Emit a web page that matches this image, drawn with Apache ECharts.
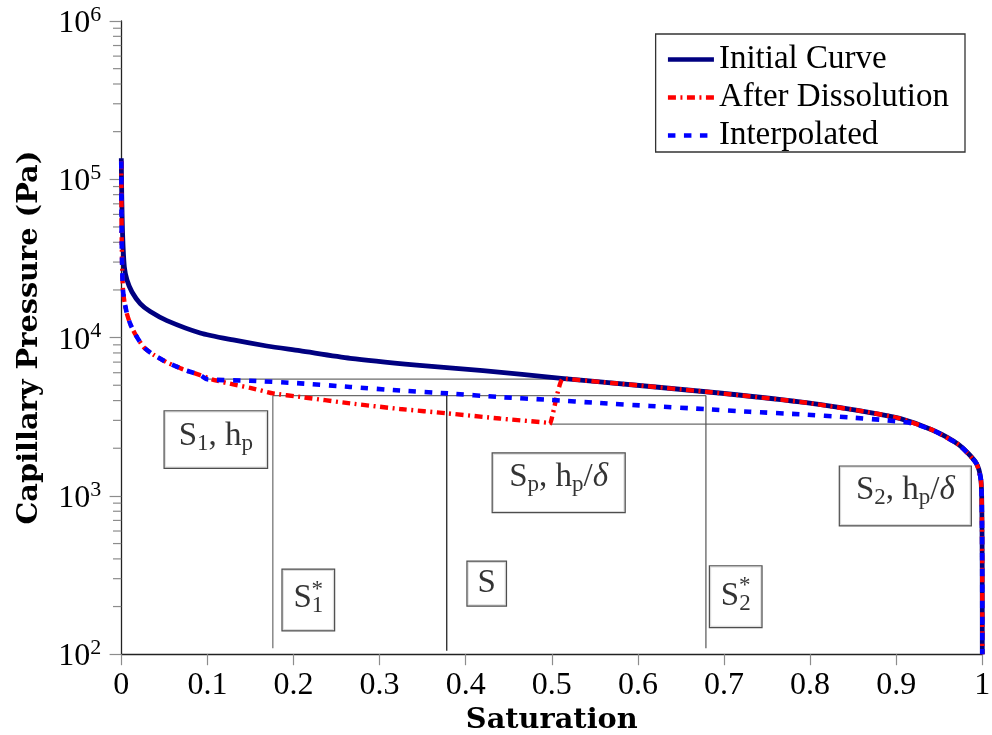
<!DOCTYPE html>
<html>
<head>
<meta charset="utf-8">
<script src="https://cdn.jsdelivr.net/npm/echarts@6/dist/echarts.min.js"></script>
<style>
  html, body { margin: 0; padding: 0; background: #fff; }
  #chart { width: 992px; height: 735px; }
</style>
</head>
<body>
<div id="chart"></div>
<script>
// ---- Capillary pressure curves: saturation (-) vs. pressure (Pa) ----
const initialS  = [0, 0.0005, 0.0015, 0.0035, 0.0066, 0.0124, 0.022, 0.0336, 0.053, 0.0916, 0.13, 0.169, 0.207, 0.266, 0.343, 0.42, 0.511, 0.556, 0.679, 0.788, 0.865, 0.904, 0.942, 0.973, 0.993, 0.9984, 0.9995, 0.9999, 1];
const initialPc = [136000, 80000, 45000, 28000, 23100, 19400, 16400, 14600, 12800, 10700, 9660, 8850, 8260, 7400, 6710, 6180, 5530, 5250, 4550, 3930, 3400, 3090, 2610, 2100, 1610, 1260, 800, 350, 100];

const dissolvedS  = [0, 0.0004, 0.001, 0.002, 0.0035, 0.0066, 0.0104, 0.0162, 0.026, 0.037, 0.053, 0.072, 0.0916, 0.107, 0.13, 0.1497, 0.1763, 0.2077, 0.2657, 0.3237, 0.3794, 0.4397, 0.4942, 0.4975, 0.513, 0.556, 0.679, 0.788, 0.865, 0.904, 0.942, 0.973, 0.993, 0.9984, 0.9995, 0.9999, 1];
const dissolvedPc = [130000, 45000, 28000, 19800, 17100, 14100, 12200, 10500, 8690, 7820, 6970, 6290, 5800, 5410, 5060, 4810, 4440, 4220, 3840, 3540, 3320, 3080, 2900, 2840, 5500, 5250, 4550, 3930, 3400, 3090, 2610, 2100, 1610, 1260, 800, 350, 100];

const interpS  = [0, 0.0004, 0.001, 0.002, 0.0035, 0.0066, 0.0104, 0.0162, 0.026, 0.037, 0.053, 0.072, 0.0916, 0.0998, 0.1497, 0.2077, 0.2657, 0.3237, 0.3794, 0.4397, 0.4977, 0.5557, 0.6137, 0.6798, 0.7297, 0.7877, 0.8457, 0.884, 0.9037, 0.9188, 0.942, 0.973, 0.993, 0.9984, 0.9995, 0.9999, 1];
const interpPc = [130000, 45000, 28000, 19800, 17100, 14100, 12200, 10500, 8690, 7820, 6970, 6290, 5800, 5450, 5340, 5140, 4880, 4630, 4440, 4210, 4040, 3860, 3700, 3530, 3400, 3280, 3130, 3020, 2950, 2870, 2610, 2100, 1610, 1260, 800, 350, 100];

const seriesNames = ['Initial Curve', 'After Dissolution', 'Interpolated'];

// ---- Construction lines (saturation, pressure) ----
const guideTop = [[0.0994, 5460], [0.511, 5460]];
const guideMid = [[0.176, 4300], [0.679, 4300]];
const guideLow = [[0.4975, 2840], [0.919, 2840]];
const guideS1  = [[0.176, 4300], [0.176, 109]];
const guideS2  = [[0.679, 4300], [0.679, 109]];
const guideS   = [[0.378, 4300], [0.378, 105]];

// ---- Boxed annotations ----
const noteText = [
  '{m|S}{sub|1}{m|, h}{sub|p}',
  '{m|S}{sub|1}',
  '{m|S}',
  '{m|S}{sub|p}{m|, h}{sub|p}{m|/}{it|δ}',
  '{m|S}{sub|2}',
  '{m|S}{sub|2}{m|, h}{sub|p}{m|/}{it|δ}'
];
const noteS  = [0.1098, 0.2172, 0.4244, 0.508, 0.7136, 0.9106];
const notePc = [2270, 220, 279, 1210, 231, 1000];
const notePad = [
  [6.2, 14, 12.2, 14],
  [9.3, 10.8, 13.3, 10.8],
  [5.4, 10, 5.4, 10],
  [4.8, 16.5, 15.8, 16.5],
  [11, 10.8, 11.6, 10.8],
  [4.8, 16, 15.8, 16]
];
// star superscripts sit on the S1* and S2* boxes
const starOf = [1, 4];

// y-axis minor ticks (2..9 within each decade)
const minorMantissa = [2, 3, 4, 5, 6, 7, 8, 9];
const decades = [2, 3, 4, 5];

const SERIF = 'Liberation Serif';
const TITLE_FONT = 'DejaVu Serif';

const pairs = (xs, ys) => xs.map((x, i) => [x, ys[i]]);
const minorValues = [];
decades.forEach(d => minorMantissa.forEach(m => minorValues.push([0, m * Math.pow(10, d)])));

const guideSeries = [
  [guideTop, '#6b6b6b'], [guideMid, '#6b6b6b'], [guideLow, '#6b6b6b'],
  [guideS1, '#6b6b6b'], [guideS2, '#555'], [guideS, '#111']
].map(([d, c]) => ({
  type: 'line', data: d, symbol: 'none', silent: true, z: 1,
  lineStyle: { color: c, width: 1.2 }
}));

const richStyles = {
  m:    { fontFamily: SERIF, fontSize: 33, color: '#000', verticalAlign: 'middle' },
  sub:  { fontFamily: SERIF, fontSize: 23, color: '#000', verticalAlign: 'middle', padding: [15, 0, 0, 0] },
  it:   { fontFamily: SERIF, fontSize: 33, fontStyle: 'italic', color: '#000', verticalAlign: 'middle' },
  star: { fontFamily: SERIF, fontSize: 23, color: '#000', verticalAlign: 'middle' }
};

const noteData = noteText.map((t, i) => ({
  value: [noteS[i], notePc[i]],
  label: { formatter: t, padding: notePad[i] }
}));
const starData = starOf.map(i => ({
  value: [noteS[i], notePc[i]],
  label: { formatter: '{star|*}', backgroundColor: 'transparent', borderWidth: 0, padding: 0, offset: [9, -10.5] }
}));

const option = {
  animation: false,
  backgroundColor: '#fff',
  grid: { left: 121.3, right: 9.7, top: 21, bottom: 80.8, outerBoundsMode: 'none', containLabel: false },
  legend: {
    data: seriesNames,
    orient: 'vertical',
    right: 27, top: 34,
    itemWidth: 46, itemHeight: 14, itemGap: 5,
    padding: [9, 16, 0, 10],
    borderColor: '#333', borderWidth: 1.3, backgroundColor: '#fff',
    itemStyle: { opacity: 0 },
    lineStyle: { width: 4.6 },
    textStyle: { fontFamily: SERIF, fontSize: 33, color: '#000' },
    selectedMode: false
  },
  xAxis: {
    type: 'value', min: 0, max: 1, interval: 0.1,
    name: 'Saturation', nameLocation: 'middle', nameGap: 47,
    nameTextStyle: { fontFamily: TITLE_FONT, fontWeight: 'bold', fontSize: 28.8, color: '#000' },
    axisLine: { show: true, onZero: false, lineStyle: { color: '#222', width: 1.3 } },
    axisTick: { show: true, inside: false, length: 11, lineStyle: { color: '#8c8c8c', width: 1.2 } },
    axisLabel: { fontFamily: SERIF, fontSize: 32, color: '#000', margin: 15 },
    splitLine: { show: false }
  },
  yAxis: {
    type: 'log', logBase: 10, min: 100, max: 1000000,
    name: 'Capillary Pressure (Pa)', nameLocation: 'middle', nameGap: 77, nameRotate: 90,
    nameTextStyle: { fontFamily: TITLE_FONT, fontWeight: 'bold', fontSize: 28.8, color: '#000' },
    axisLine: { show: true, lineStyle: { color: '#222', width: 1.3 } },
    axisTick: { show: true, inside: false, length: 11.7, lineStyle: { color: '#8c8c8c', width: 1.2 } },
    axisLabel: {
      margin: 20,
      formatter: v => '{b|10}{e|' + Math.round(Math.log10(v)) + '}',
      rich: {
        b: { fontFamily: SERIF, fontSize: 32, color: '#000', verticalAlign: 'middle', padding: [5, 0, 0, 0] },
        e: { fontFamily: SERIF, fontSize: 22, color: '#000', verticalAlign: 'middle', padding: [0, 0, 12, 0] }
      }
    },
    splitLine: { show: false }
  },
  series: [
    ...guideSeries,
    {
      type: 'custom', name: 'minor', silent: true, clip: false, z: 3,
      data: minorValues,
      renderItem: (params, api) => {
        const p = api.coord([0, api.value(1)]);
        return { type: 'line', shape: { x1: p[0] - 8.3, y1: p[1], x2: p[0], y2: p[1] },
                 style: { stroke: '#8c8c8c', lineWidth: 1.2 } };
      }
    },
    {
      name: seriesNames[0], type: 'line', data: pairs(initialS, initialPc),
      symbol: 'none', z: 2, color: '#000080', smooth: 0.25,
      lineStyle: { color: '#000080', width: 4.8, join: 'round' }
    },
    {
      name: seriesNames[1], type: 'line', data: pairs(dissolvedS, dissolvedPc),
      symbol: 'none', z: 3, color: '#ff0000', smooth: 0.15,
      lineStyle: { color: '#ff0000', width: 4.4, type: [8, 4.5, 2, 4.5] }
    },
    {
      name: seriesNames[2], type: 'line', data: pairs(interpS, interpPc),
      symbol: 'none', z: 4, color: '#0000ff', smooth: 0.2,
      lineStyle: { color: '#0000ff', width: 4.6, type: [7.5, 8.5] }
    },
    {
      type: 'scatter', name: 'notes', silent: true, z: 6,
      symbol: 'circle', symbolSize: 1, itemStyle: { color: 'rgba(0,0,0,0)' },
      data: noteData.concat(starData),
      label: {
        show: true, position: 'inside',
        backgroundColor: '#fff', borderColor: '#222', borderWidth: 1.2,
        rich: richStyles
      }
    }
  ]
};

const chart = echarts.init(document.getElementById('chart'));
chart.setOption(option);
</script>
</body>
</html>
